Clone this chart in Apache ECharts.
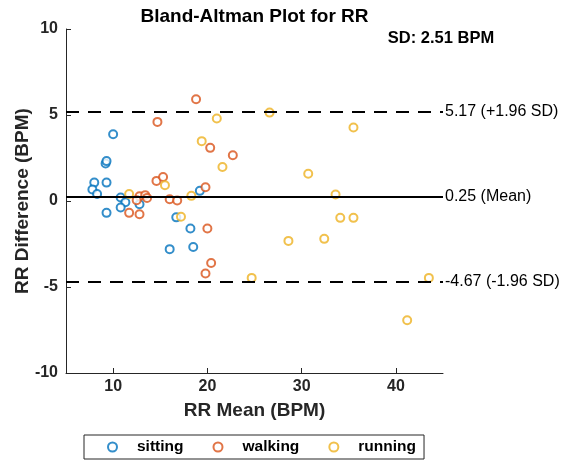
<!DOCTYPE html>
<html>
<head>
<meta charset="utf-8">
<script src="https://cdn.jsdelivr.net/npm/echarts@6/dist/echarts.min.js"></script>
<style>
  html, body { margin: 0; padding: 0; background: #fff; }
  #chart { width: 567px; height: 461px; }
</style>
</head>
<body>
<div id="chart"></div>
<script>
// sitting
const sittingMean = [10.0, 9.2, 9.3, 8.0, 9.3, 7.8, 8.3, 10.8, 11.3, 10.8, 12.8, 9.3, 16.7, 18.2, 16.0, 18.5, 19.2];
const sittingDiff = [3.88, 2.18, 2.32, 1.07, 1.07, 0.67, 0.41, 0.2, -0.07, -0.38, -0.19, -0.69, -0.95, -1.6, -2.8, -2.67, 0.59];
// walking
const walkingMean = [18.8, 14.7, 20.3, 22.7, 14.6, 15.3, 19.8, 12.8, 13.4, 13.6, 12.5, 16.0, 16.8, 11.7, 12.8, 20.0, 20.4, 19.8];
const walkingDiff = [5.92, 4.6, 3.09, 2.66, 1.17, 1.4, 0.8, 0.28, 0.34, 0.18, 0.05, 0.1, 0.03, -0.69, -0.77, -1.6, -3.6, -4.22];
// running
const runningMean = [21.0, 19.4, 21.6, 15.5, 11.7, 18.3, 17.2, 26.6, 35.5, 30.7, 33.6, 34.1, 35.5, 28.6, 32.4, 24.7, 43.5, 41.2];
const runningDiff = [4.8, 3.48, 1.98, 0.92, 0.4, 0.3, -0.92, 5.14, 4.27, 1.58, 0.38, -0.98, -0.98, -2.32, -2.2, -4.47, -4.47, -6.93];

const meanDiff = 0.25;
const upperLoA = 5.17;
const lowerLoA = -4.67;
const sdValue = 2.51;
const xTicks = [10, 20, 30, 40];

const font = '"Liberation Sans", Arial, sans-serif';
const ink = '#262626';

const pairs = (xs, ys) => xs.map((x, i) => [x, ys[i]]);

const scatter = (name, color, xs, ys) => ({
  name: name,
  type: 'scatter',
  symbol: 'emptyCircle',
  symbolSize: 8,
  data: pairs(xs, ys),
  itemStyle: { color: color, borderColor: color, borderWidth: 2 },
  z: 3
});

const grid = { left: 66, right: 124, top: 29, bottom: 88, outerBoundsMode: 'none' };
const plotCenterX = grid.left + (567 - grid.left - grid.right) / 2;

const chart = echarts.init(document.getElementById('chart'));

const option = {
  animation: false,
  textStyle: { fontFamily: font },
  grid: grid,
  graphic: [
    {
      type: 'text', x: plotCenterX, y: 17,
      style: { text: 'Bland-Altman Plot for RR', font: 'bold 19px ' + font, fill: '#000', align: 'center', verticalAlign: 'middle' }
    },
    {
      type: 'text', x: 441, y: 38,
      style: { text: 'SD: ' + sdValue.toFixed(2) + ' BPM', font: 'bold 16.5px ' + font, fill: '#000', align: 'center', verticalAlign: 'middle' }
    }
  ],
  legend: {
    left: 84, top: 435,
    itemWidth: 9, itemHeight: 9, itemGap: 29,
    padding: [4, 8, 4, 23],
    borderColor: ink, borderWidth: 1,
    textStyle: { fontFamily: font, fontSize: 15.5, fontWeight: 'bold', color: '#000', padding: [0, 0, 0, 15] },
    data: ['sitting', 'walking', 'running']
  },
  xAxis: {
    type: 'value', min: 5, max: 45,
    name: 'RR Mean (BPM)', nameLocation: 'middle', nameGap: 28,
    nameTextStyle: { fontFamily: font, fontSize: 19, fontWeight: 'bold', color: ink },
    axisLine: { onZero: false, lineStyle: { color: ink, width: 1 } },
    axisTick: { inside: true, length: 5, customValues: xTicks, lineStyle: { color: ink } },
    axisLabel: { customValues: xTicks, fontSize: 16, fontWeight: 'bold', color: ink, margin: 6 },
    splitLine: { show: false }
  },
  yAxis: {
    type: 'value', min: -10, max: 10, interval: 5,
    name: 'RR Difference (BPM)', nameLocation: 'middle', nameGap: 34,
    nameMoveOverlap: false,
    nameTextStyle: { fontFamily: font, fontSize: 19, fontWeight: 'bold', color: ink },
    axisLine: { show: true, onZero: false, lineStyle: { color: ink, width: 1 } },
    axisTick: { show: true, inside: true, length: 5, lineStyle: { color: ink } },
    axisLabel: { fontSize: 16, fontWeight: 'bold', color: ink, margin: 8 },
    splitLine: { show: false }
  },
  series: [
    scatter('sitting', '#0072BD', sittingMean, sittingDiff),
    scatter('walking', '#D95319', walkingMean, walkingDiff),
    scatter('running', '#EDB120', runningMean, runningDiff),
    {
      name: 'limits',
      type: 'line',
      data: [],
      markLine: {
        silent: true,
        symbol: 'none',
        label: {
          position: 'end', distance: 2,
          fontFamily: font, fontSize: 16, color: '#000'
        },
        data: [
          {
            yAxis: upperLoA,
            lineStyle: { color: '#000', width: 2, type: [13, 9] },
            label: { formatter: upperLoA.toFixed(2) + ' (+1.96 SD)' }
          },
          {
            yAxis: meanDiff,
            lineStyle: { color: '#000', width: 2, type: 'solid' },
            label: { formatter: meanDiff.toFixed(2) + ' (Mean)' }
          },
          {
            yAxis: lowerLoA,
            lineStyle: { color: '#000', width: 2, type: [13, 9] },
            label: { formatter: lowerLoA.toFixed(2) + ' (-1.96 SD)' }
          }
        ]
      },
      z: 2
    }
  ]
};

chart.setOption(option);
</script>
</body>
</html>
